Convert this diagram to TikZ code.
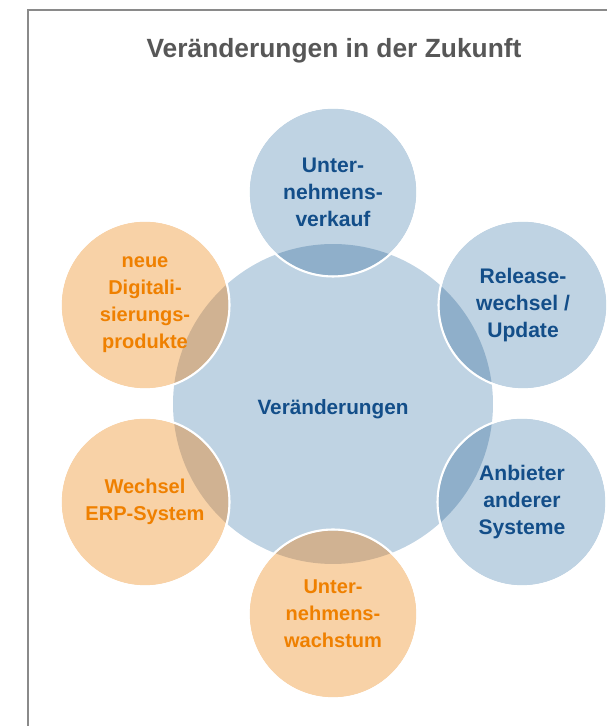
\documentclass[tikz,border=0pt]{standalone}
\usepackage{fontspec}
\setmainfont{Liberation Sans}
\usetikzlibrary{backgrounds}

\definecolor{paleblue}{HTML}{BFD3E3}
\definecolor{darkblue}{HTML}{8FAFCA}
\definecolor{paleorange}{HTML}{F8D2A7}
\definecolor{brownmix}{HTML}{D0B292}
\definecolor{inkblue}{HTML}{134E89}
\definecolor{inkorange}{HTML}{EF8000}
\definecolor{titlegray}{HTML}{575757}
\definecolor{framegray}{HTML}{8A8A8A}

\tikzstyle{topic} =
        [
                circle,
                align = center,
                inner sep = 0pt,
                minimum size = 3.34cm,
                font = \bfseries\fontsize{11.4}{15.3}\selectfont
        ]
\tikzstyle{bluetopic} =
        [
                topic,
                text = inkblue,
                font = \bfseries\fontsize{12}{15.3}\selectfont
        ]
\tikzstyle{orangetopic} = [topic, text = inkorange]
\tikzstyle{hub} =
        [
                topic,
                text = inkblue,
                minimum size = 6.4cm,
                font = \bfseries\fontsize{11.8}{15.3}\selectfont,
                text height = 11.9pt,
                text depth = 0pt
        ]
\tikzstyle{ring} =
        [
                draw = white,
                line width = 1.2pt
        ]

\begin{document}
\begin{tikzpicture}[x = 0.02cm, y = 0.02cm]
        \useasboundingbox (0,0) rectangle (607,726);
        \draw [framegray, line width = 1.1pt] (607,716) -- (28,716) -- (28,0);
        \node [anchor = base, text = titlegray, font = \bfseries\fontsize{15}{18}\selectfont] (title) at (334,668) {Veränderungen in der Zukunft};

        \node [hub] (mid) at (333,322) {Veränderungen};
        \node [bluetopic] (verkauf) at (333,534) {Unter-\\nehmens-\\verkauf};
        \node [bluetopic] (release) at (523,421) {Release-\\wechsel /\\Update};
        \node [bluetopic] (anbieter) at (522,224) {Anbieter\\anderer\\Systeme};
        \node [orangetopic] (wachstum) at (333,112) {Unter-\\nehmens-\\wachstum};
        \node [orangetopic] (erp) at (145,224) {Wechsel\\ERP-System};
        \node [orangetopic] (digital) at (145,421) {neue\\Digitali-\\sierungs-\\produkte};

        % discs go behind the labels
        \begin{scope}[on background layer]
                \fill [paleblue] (mid.center) circle (3.2cm);
                \fill [paleblue] (verkauf.center) circle (1.67cm);
                \fill [paleblue] (release.center) circle (1.67cm);
                \fill [paleblue] (anbieter.center) circle (1.67cm);
                \fill [paleorange] (wachstum.center) circle (1.67cm);
                \fill [paleorange] (erp.center) circle (1.67cm);
                \fill [paleorange] (digital.center) circle (1.67cm);
                % darker where a small disc lies on the big one
                \begin{scope}
                        \clip (mid.center) circle (3.2cm);
                        \fill [darkblue] (verkauf.center) circle (1.67cm);
                        \fill [darkblue] (release.center) circle (1.67cm);
                        \fill [darkblue] (anbieter.center) circle (1.67cm);
                        \fill [brownmix] (wachstum.center) circle (1.67cm);
                        \fill [brownmix] (erp.center) circle (1.67cm);
                        \fill [brownmix] (digital.center) circle (1.67cm);
                \end{scope}
                \draw [ring] (verkauf.center) circle (1.69cm);
                \draw [ring] (release.center) circle (1.69cm);
                \draw [ring] (anbieter.center) circle (1.69cm);
                \draw [ring] (wachstum.center) circle (1.69cm);
                \draw [ring] (erp.center) circle (1.69cm);
                \draw [ring] (digital.center) circle (1.69cm);
        \end{scope}
\end{tikzpicture}
\end{document}
